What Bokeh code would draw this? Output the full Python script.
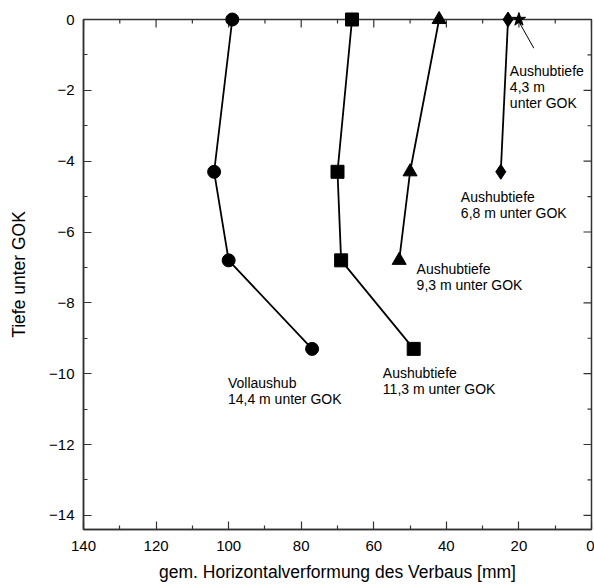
from bokeh.plotting import figure
from bokeh.models import Range1d, FixedTicker
from bokeh.embed import file_html
from bokeh.resources import INLINE
from bokeh.core.properties import value

# --- data ---
depth = [0.0, -4.3, -6.8, -9.3]
voll_x = [99, 104, 100, 77]            # Vollaushub 14,4 m
a113_x = [66, 70, 69, 49]              # Aushubtiefe 11,3 m
a93_x = [42, 50, 53]                   # Aushubtiefe 9,3 m
a68_x = [23, 25]                       # Aushubtiefe 6,8 m
a43_x = [20]                           # Aushubtiefe 4,3 m
a43_y = [0.0]

label_texts = [
    ["Aushubtiefe", "4,3 m", "unter GOK"],
    ["Aushubtiefe", "6,8 m unter GOK"],
    ["Aushubtiefe", "9,3 m unter GOK"],
    ["Aushubtiefe", "11,3 m unter GOK"],
    ["Vollaushub", "14,4 m unter GOK"],
]
label_x = [22.5, 36.0, 48.2, 57.5, 100.2]
label_y = [-1.44, -5.01, -7.04, -9.99, -10.27]

leader_x = [19.9, 15.9]
leader_y = [-0.08, -0.81]

x_ticks = [140, 120, 100, 80, 60, 40, 20, 0]
x_minor = [130, 110, 90, 70, 50, 30, 10]
y_ticks = [0, -2, -4, -6, -8, -10, -12, -14]
y_minor = [-1, -3, -5, -7, -9, -11, -13]

FONT = "Liberation Sans"
AX = "#333333"

p = figure(width=594, height=585, output_backend="svg", toolbar_location=None,
           x_range=Range1d(140, 0), y_range=Range1d(-14.4, 0),
           min_border_left=83, min_border_right=3, min_border_top=19,
           min_border_bottom=56)
p.grid.visible = False
p.outline_line_color = AX
p.outline_line_width = 1.5
p.background_fill_color = "white"
p.border_fill_color = "white"

for ax in (p.xaxis[0], p.yaxis[0]):
    ax.axis_line_color = AX
    ax.axis_line_width = 1.5
    ax.major_tick_line_color = AX
    ax.minor_tick_line_color = AX
    ax.major_tick_line_width = 1.2
    ax.minor_tick_line_width = 1.2
    ax.major_tick_in = 8
    ax.major_tick_out = 0
    ax.minor_tick_in = 4
    ax.minor_tick_out = 0
    ax.major_label_text_font = FONT
    ax.major_label_text_color = "black"
    ax.major_label_text_font_size = "15px"
    ax.axis_label_text_font = FONT
    ax.axis_label_text_font_style = "normal"
    ax.axis_label_text_color = "black"
    ax.axis_label_text_font_size = "17.5px"

p.xaxis.ticker = FixedTicker(ticks=x_ticks, minor_ticks=x_minor)
p.yaxis.ticker = FixedTicker(ticks=y_ticks, minor_ticks=y_minor)
p.xaxis.axis_label = "gem. Horizontalverformung des Verbaus [mm]"
p.yaxis.axis_label = "Tiefe unter GOK"
p.xaxis.major_label_standoff = 11
p.yaxis.major_label_standoff = 9
p.xaxis.axis_label_standoff = 8
p.yaxis.axis_label_standoff = 17

# mirrored inner ticks on top and right edges
top_y = p.y_range.end
right_x = p.x_range.end
p.ray(x=x_ticks, y=[top_y] * len(x_ticks), length=8, length_units="screen",
      angle=-90, angle_units="deg", line_color=AX, line_width=1.2)
p.ray(x=x_minor, y=[top_y] * len(x_minor), length=4, length_units="screen",
      angle=-90, angle_units="deg", line_color=AX, line_width=1.2)
p.ray(x=[right_x] * len(y_ticks), y=y_ticks, length=8, length_units="screen",
      angle=180, angle_units="deg", line_color=AX, line_width=1.2)
p.ray(x=[right_x] * len(y_minor), y=y_minor, length=4, length_units="screen",
      angle=180, angle_units="deg", line_color=AX, line_width=1.2)

LW = 1.8
markers = []
p.line(voll_x, depth, line_color="black", line_width=LW)
markers.append(p.scatter(voll_x, depth, marker="circle", size=13, color="black"))

p.line(a113_x, depth, line_color="black", line_width=LW)
markers.append(p.scatter(a113_x, depth, marker="square", size=13, color="black"))

p.line(a93_x, depth[:3], line_color="black", line_width=LW)
markers.append(p.scatter(a93_x, depth[:3], marker="triangle", size=14, color="black"))

p.line(a68_x, depth[:2], line_color="black", line_width=LW)
markers.append(p.scatter(a68_x, depth[:2], marker="diamond", size=15, color="black"))

markers.append(p.scatter(a43_x, a43_y, marker="star", size=14, color="black"))
p.line(leader_x, leader_y, line_color="black", line_width=1.0)

# markers sitting on the top edge must not be clipped by the frame
for r in markers:
    r.level = "overlay"

tx, ty, tt, toff = [], [], [], []
for lx, ly, lines in zip(label_x, label_y, label_texts):
    for i, s in enumerate(lines):
        tx.append(lx)
        ty.append(ly)
        tt.append(s)
        toff.append(16 * i)
p.text(x=tx, y=ty, text=tt, y_offset=toff, text_font=value(FONT),
       text_font_size="14px", text_baseline="middle", text_align="left",
       text_color="black")

open("out.html", "w").write(file_html(p, INLINE))
